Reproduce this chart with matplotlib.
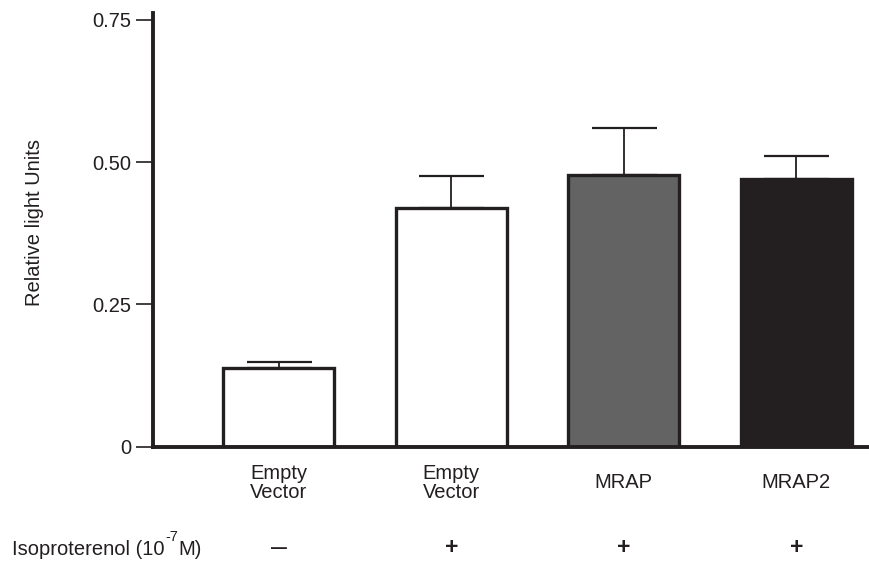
import matplotlib
matplotlib.use("Agg")
import matplotlib.pyplot as plt
import matplotlib.transforms as mtransforms

plt.rcParams['font.family'] = ['Liberation Sans', 'DejaVu Sans']

# ---- data ----
categories = ["Empty\nVector", "Empty\nVector", "MRAP", "MRAP2"]
values = [0.138, 0.420, 0.478, 0.471]
errors = [0.010, 0.056, 0.081, 0.040]
treatment = ["–", "+", "+", "+"]
bar_colors = ["#ffffff", "#ffffff", "#636363", "#231f20"]
yticks = [0, 0.25, 0.50, 0.75]
ytick_labels = ["0", "0.25", "0.50", "0.75"]

dark = "#231f20"
fs = 14.5

fig = plt.figure(figsize=(8.69, 5.65), dpi=100)
ax = fig.add_axes([153/869, 1-446.7/565, 1-153/869, (446.7-13)/565])

x = list(range(len(values)))
ax.bar(x, values, width=0.645, color=bar_colors, edgecolor=dark, linewidth=2.4, zorder=2)
ax.errorbar(x, values, yerr=[[0]*len(errors), errors], fmt='none', ecolor=dark,
            elinewidth=1.3, capsize=23.4, capthick=1.6, zorder=1)

ax.set_xlim(-0.729, 3.421)
ax.set_ylim(0, 0.7618)

for s in ['top', 'right']:
    ax.spines[s].set_visible(False)
for s in ['left', 'bottom']:
    ax.spines[s].set_linewidth(2.8)
    ax.spines[s].set_color(dark)
    ax.spines[s].set_zorder(3)

ax.set_yticks(yticks)
ax.set_yticklabels(ytick_labels, fontsize=fs, color=dark)
ax.tick_params(axis='y', direction='out', length=12, width=1.2, color=dark, pad=3.5)
ax.set_xticks([])

trans = mtransforms.blended_transform_factory(ax.transData, ax.transAxes)
for xi, lab, tr in zip(x, categories, treatment):
    ax.text(xi, -0.083, lab, transform=trans, ha='center', va='center',
            fontsize=fs, color=dark, linespacing=1.0, clip_on=False)
    if tr == "+":
        ax.text(xi, -0.2327, tr, transform=trans, ha='center', va='center',
                fontsize=fs + 2, fontweight='bold', color=dark, clip_on=False)
    else:
        ax.text(xi, -0.2327, tr, transform=trans, ha='center', va='center',
                fontsize=fs + 6, color=dark, clip_on=False)

# Isoproterenol label with manual superscript
renderer = fig.canvas.get_renderer()
t1 = fig.text(12/869, 1-555/565, 'Isoproterenol (10', ha='left', va='baseline',
              fontsize=fs, color=dark)
bb = t1.get_window_extent(renderer)
t2 = fig.text(bb.x1/869 + 0.5/869, 1-555/565 + 14/565, '-7', ha='left', va='baseline',
              fontsize=fs*0.72, color=dark)
bb2 = t2.get_window_extent(renderer)
fig.text(bb2.x1/869 + 0.5/869, 1-555/565, 'M)', ha='left', va='baseline',
         fontsize=fs, color=dark)

fig.text(35/869, 1-222/565, 'Relative light Units', rotation=90, ha='center', va='center',
         fontsize=fs, color=dark)

fig.savefig("out.png", dpi=100)
